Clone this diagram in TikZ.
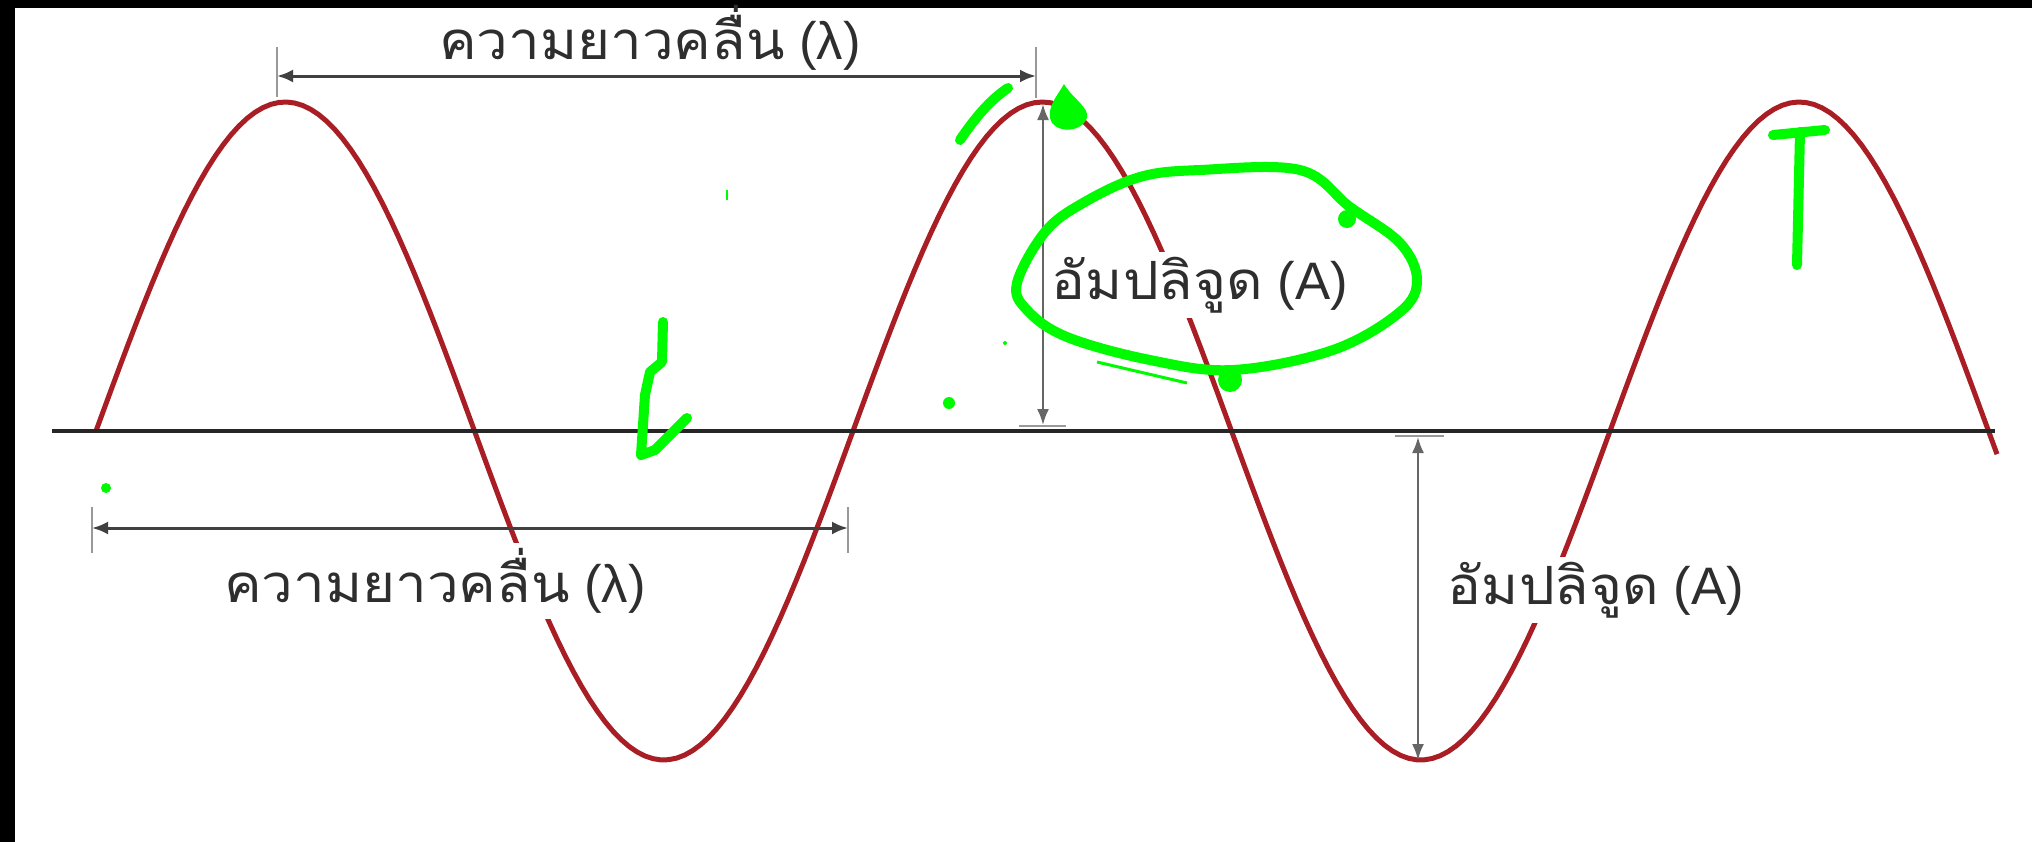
\documentclass[tikz,border=0pt]{standalone}
\usepackage{fontspec}
\setmainfont{Liberation Sans}
\newfontfamily\thaifont[Script=Thai, FakeStretch=1.07]{Loma}
\usetikzlibrary{arrows.meta}
\definecolor{waveRed}{RGB}{168,30,36}
\definecolor{markGreen}{RGB}{0,250,0}
\tikzset{
  wave/.style={draw=waveRed, line width=0.5mm},
  axisline/.style={draw=black!85, line width=0.35mm},
  dimarrow/.style={{Latex[length=1.6mm,width=1.3mm]}-{Latex[length=1.6mm,width=1.3mm]}, draw=black!75, line width=0.3mm},
  amparrow/.style={{Latex[length=1.6mm,width=1.2mm]}-{Latex[length=1.6mm,width=1.2mm]}, draw=black!60, line width=0.2mm},
  tickline/.style={draw=black!40, line width=0.2mm},
  wavelabel/.style={fill=white, inner sep=1.5pt, text=black!82, font=\fontsize{15}{17}\selectfont},
  greenmark/.style={draw=markGreen, line width=1mm, line cap=round, line join=round},
}

\begin{document}
\begin{tikzpicture}[x=0.1mm, y=-0.1mm]

  % ---- Frame ----
  \useasboundingbox (0,0) rectangle (2032,842);
  \fill[white] (0,0) rectangle (2032,842);
  \fill[black] (0,0) rectangle (15,842);
  \fill[black] (0,0) rectangle (2032,8);

  % ---- Wave and axis ----
  \draw[wave] plot[domain=96:1997, samples=240] (\x, {431 - 329*sin((\x-96)/757*360)});
  \coordinate (axisL) at (52,431);
  \coordinate (axisR) at (1995,431);
  \draw[axisline] (axisL) -- (axisR);

  % ---- Wavelength, top ----
  \coordinate (topL) at (277,76);
  \coordinate (topR) at (1036,76);
  \draw[tickline] (277,47) -- (277,97);
  \draw[tickline] (1036,47) -- (1036,98);
  \draw[dimarrow] (topL) -- (topR);

  % ---- Wavelength, bottom ----
  \coordinate (botL) at (92,528);
  \coordinate (botR) at (848,528);
  \draw[tickline] (92,507) -- (92,553);
  \draw[tickline] (848,507) -- (848,553);
  \draw[dimarrow] (botL) -- (botR);

  % ---- Amplitudes ----
  \coordinate (ampTop) at (1043,104);
  \coordinate (ampMid) at (1043,425);
  \draw[tickline] (1019,426) -- (1066,426);
  \draw[amparrow] (ampTop) -- (ampMid);
  \coordinate (ampZero) at (1418,437);
  \coordinate (ampLow) at (1418,760);
  \draw[tickline] (1395,436) -- (1444,436);
  \draw[amparrow] (ampZero) -- (ampLow);

  % ---- Labels ----
  \node (lamtop) [wavelabel, fill=none, anchor=base] at (650,60) {{\thaifont ความยาวคลื่น} (λ)};
  \node (lambot) [wavelabel] at (435,581) {{\thaifont ความยาวคลื่น} (λ)};
  \node (amptop) [wavelabel] at (1200,285) {{\thaifont อัมปลิจูด} (A)};
  \node (ampbot) [wavelabel] at (1596,590) {{\thaifont อัมปลิจูด} (A)};

  % ---- Green marks ----
  \draw[greenmark] (960,140) .. controls (975,118) and (990,100) .. (1008,88);
  \fill[markGreen] (1064,84) .. controls (1058,95) and (1048,105) .. (1050,118)
    .. controls (1052,132) and (1080,135) .. (1087,118)
    .. controls (1090,108) and (1072,98) .. cycle;
  \draw[greenmark] plot[smooth cycle, tension=0.6] coordinates {
    (1017,283) (1045,232) (1083,203) (1140,177) (1200,170) (1300,170)
    (1350,207) (1400,243) (1417,280) (1400,312) (1333,350) (1233,370)
    (1150,360) (1067,337) (1027,310)};
  \fill[markGreen] (1347,219) circle (9);
  \fill[markGreen] (1230,380) circle (12);
  \draw[markGreen, line width=0.3mm] (1097,362) -- (1187,383);
  \draw[greenmark] (663,322) -- (662,362) -- (650,372) -- (645,395) -- (641,455) -- (655,450) -- (687,418);
  \draw[greenmark] (1773,135) -- (1825,130);
  \draw[greenmark] (1800,132) -- (1797,265);
  \fill[markGreen] (106,488) circle (5);
  \fill[markGreen] (949,403) circle (6);
  \fill[markGreen] (1005,343) circle (2);
  \draw[markGreen, line width=0.25mm] (727,190) -- (727,200);

\end{tikzpicture}
\end{document}
